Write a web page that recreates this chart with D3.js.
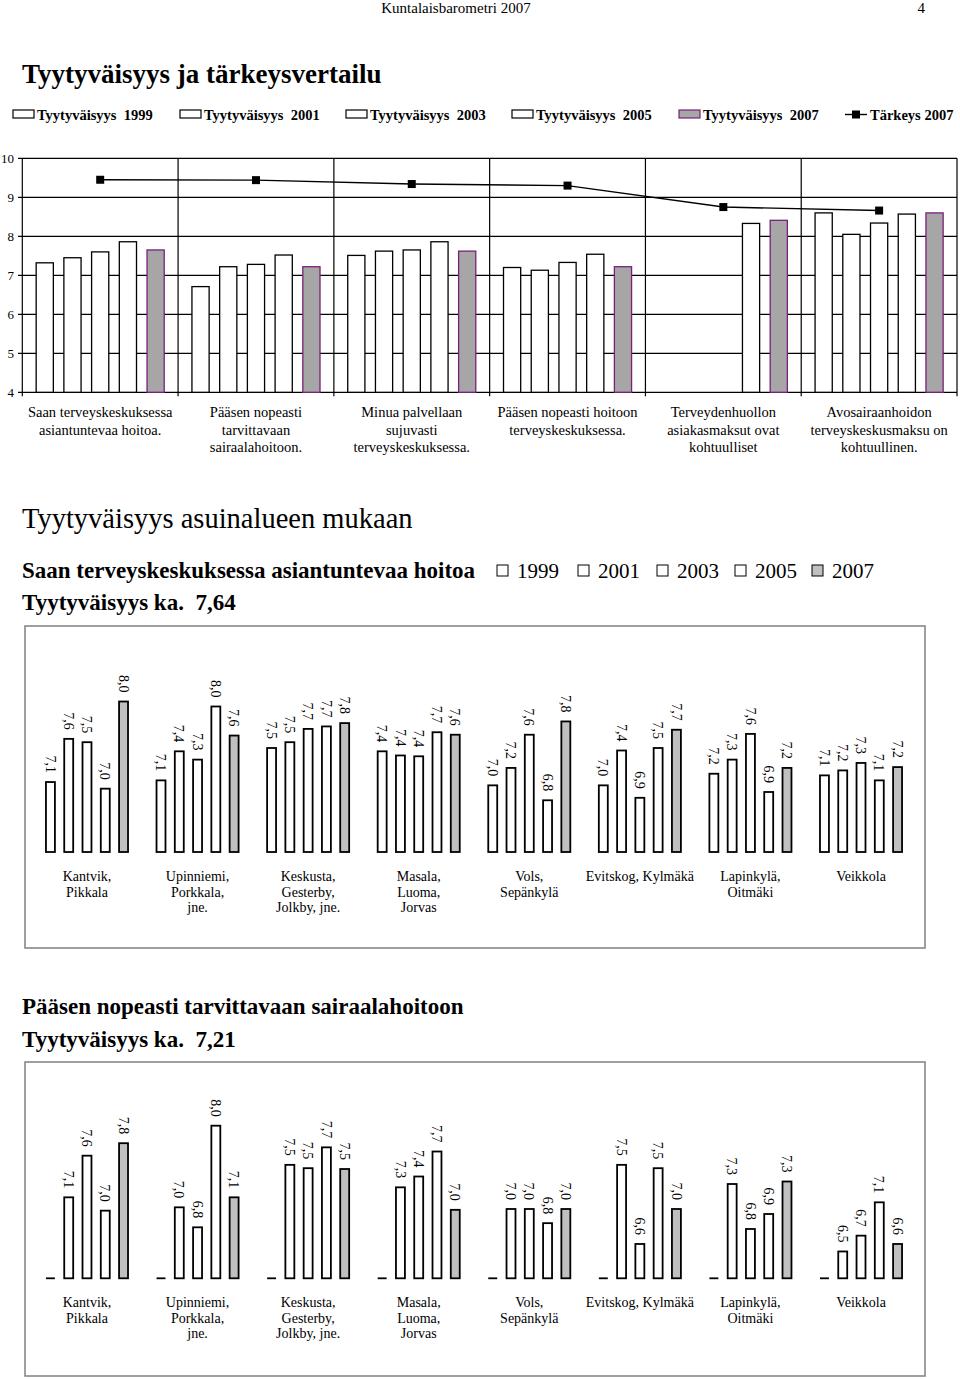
<!DOCTYPE html>
<html><head><meta charset="utf-8">
<script src="https://cdn.jsdelivr.net/npm/d3@7"></script>
<style>
body{margin:0;background:#fff}
svg{display:block}
text{font-family:"Liberation Serif","Times New Roman",serif;fill:#000;white-space:pre}
</style>
</head><body>
<svg id="c" width="960" height="1379"></svg>
<script>
// ---------- DATA ----------
const topCategories = [
  ["Saan terveyskeskuksessa","asiantuntevaa hoitoa."],
  ["Pääsen nopeasti","tarvittavaan","sairaalahoitoon."],
  ["Minua palvellaan","sujuvasti","terveyskeskuksessa."],
  ["Pääsen nopeasti hoitoon","terveyskeskuksessa."],
  ["Terveydenhuollon","asiakasmaksut ovat","kohtuulliset"],
  ["Avosairaanhoidon","terveyskeskusmaksu on","kohtuullinen."]
];
const topSeriesNames = ["Tyytyväisyys  1999","Tyytyväisyys  2001","Tyytyväisyys  2003","Tyytyväisyys  2005","Tyytyväisyys  2007"];
const sat1999 = [7.32, 6.71, 7.51, 7.20, null, 8.60];
const sat2001 = [7.45, 7.22, 7.62, 7.13, null, 8.05];
const sat2003 = [7.60, 7.28, 7.65, 7.33, null, 8.34];
const sat2005 = [7.86, 7.52, 7.86, 7.54, 8.33, 8.57];
const sat2007 = [7.65, 7.22, 7.62, 7.22, 8.41, 8.60];
const importanceName = "Tärkeys 2007";
const importance2007 = [9.45, 9.44, 9.34, 9.30, 8.75, 8.66];
const topTicks = [4,5,6,7,8,9,10];

const years = ["1999","2001","2003","2005","2007"];
const areas = [
  ["Kantvik,","Pikkala"],
  ["Upinniemi,","Porkkala,","jne."],
  ["Keskusta,","Gesterby,","Jolkby, jne."],
  ["Masala,","Luoma,","Jorvas"],
  ["Vols,","Sepänkylä"],
  ["Evitskog, Kylmäkä"],
  ["Lapinkylä,","Oitmäki"],
  ["Veikkola"]
];
// "Saan terveyskeskuksessa asiantuntevaa hoitoa"
const care1999 = [7.06, 7.08, 7.47, 7.43, 7.02, 7.02, 7.16, 7.14];
const care2001 = [7.58, 7.43, 7.54, 7.38, 7.23, 7.44, 7.33, 7.20];
const care2003 = [7.54, 7.33, 7.70, 7.37, 7.63, 6.87, 7.64, 7.29];
const care2005 = [6.98, 7.97, 7.73, 7.66, 6.84, 7.47, 6.94, 7.08];
const care2007 = [8.03, 7.62, 7.77, 7.63, 7.79, 7.69, 7.23, 7.24];
// "Pääsen nopeasti tarvittavaan sairaalahoitoon"
const hosp1999 = [null, null, null, null, null, null, null, null];
const hosp2001 = [7.14, 7.02, 7.53, 7.26, 7.00, 7.53, 7.30, 6.49];
const hosp2003 = [7.64, 6.78, 7.49, 7.39, 7.00, 6.58, 6.76, 6.68];
const hosp2005 = [6.98, 8.00, 7.74, 7.69, 6.83, 7.49, 6.94, 7.08];
const hosp2007 = [7.79, 7.14, 7.48, 6.99, 7.00, 7.00, 7.33, 6.58];

// ---------- DRAW ----------
const svg = d3.select("#c");
const fmt = v => d3.format(".1f")(v).replace(".", ",");

// header
svg.append("text").attr("x",456).attr("y",13).attr("text-anchor","middle").style("font-size","15px").text("Kuntalaisbarometri 2007");
svg.append("text").attr("x",925).attr("y",13).attr("text-anchor","end").style("font-size","15px").text("4");
svg.append("text").attr("x",22).attr("y",83).style("font-size","27px").style("font-weight","bold").text("Tyytyväisyys ja tärkeysvertailu");

// ----- top chart -----
const topSeries = [sat1999, sat2001, sat2003, sat2005, sat2007];
const x0 = d3.scaleBand().domain(d3.range(topCategories.length)).range([22.3, 957]).padding(0);
const x1 = d3.scaleBand().domain(years).range([0, x0.bandwidth()]).paddingInner(0.38).paddingOuter(0.5);
const yT = d3.scaleLinear().domain([4,10]).range([392.3,158.3]);

const gT = svg.append("g");
// horizontal grid
gT.selectAll("line.h").data(topTicks).join("line")
  .attr("x1",18).attr("x2",957).attr("y1",d=>yT(d)).attr("y2",d=>yT(d))
  .attr("stroke","#000").attr("stroke-width",1.2);
gT.selectAll("text.yt").data(topTicks).join("text")
  .attr("x",14).attr("y",d=>yT(d)).attr("dy","0.35em").attr("text-anchor","end")
  .style("font-size","13px").text(d=>d);
// vertical separators
const seps = d3.range(topCategories.length).map(i=>x0(i)).concat([957]);
gT.selectAll("line.v").data(seps).join("line")
  .attr("x1",d=>d).attr("x2",d=>d).attr("y1",yT(10)).attr("y2",yT(4)+4)
  .attr("stroke","#000").attr("stroke-width",1.2);
// bars
topSeries.forEach((s, j) => {
  gT.selectAll(null).data(s.map((v,i)=>({v,i})).filter(d=>d.v!=null)).join("rect")
    .attr("x", d=>x0(d.i)+x1(years[j]))
    .attr("y", d=>yT(d.v))
    .attr("width", x1.bandwidth())
    .attr("height", d=>yT(4)-yT(d.v))
    .attr("fill", j===4 ? "#a6a6a6" : "#fff")
    .attr("stroke", j===4 ? "#7a1f7a" : "#000")
    .attr("stroke-width", 1.3);
});
// importance line
const lineGen = d3.line().x((d,i)=>x0(i)+x0.bandwidth()/2).y(d=>yT(d));
gT.append("path").attr("d", lineGen(importance2007)).attr("fill","none").attr("stroke","#000").attr("stroke-width",1.4);
gT.selectAll("rect.m").data(importance2007).join("rect")
  .attr("x",(d,i)=>x0(i)+x0.bandwidth()/2-4).attr("y",d=>yT(d)-4)
  .attr("width",8).attr("height",8).attr("fill","#000");
// category labels
topCategories.forEach((lines,i)=>{
  const t = gT.append("text").attr("text-anchor","middle").style("font-size","14.5px");
  lines.forEach((l,k)=>t.append("tspan").attr("x",x0(i)+x0.bandwidth()/2).attr("y",417+k*17.5).text(l));
});
// legend
const legX = [13, 180, 346, 512, 679];
topSeriesNames.forEach((n,j)=>{
  gT.append("rect").attr("x",legX[j]).attr("y",110).attr("width",21).attr("height",8)
    .attr("fill", j===4 ? "#a6a6a6" : "#fff").attr("stroke", j===4 ? "#7a1f7a" : "#000").attr("stroke-width",1.2);
  gT.append("text").attr("x",legX[j]+24).attr("y",119.5).style("font-size","14.5px").style("font-weight","bold").text(n);
});
gT.append("line").attr("x1",845).attr("x2",867).attr("y1",114.5).attr("y2",114.5).attr("stroke","#000").attr("stroke-width",1.4);
gT.append("rect").attr("x",852).attr("y",110.5).attr("width",8).attr("height",8).attr("fill","#000");
gT.append("text").attr("x",870).attr("y",119.5).style("font-size","14.5px").style("font-weight","bold").text(importanceName);

// ----- section 2 -----
svg.append("text").attr("x",22).attr("y",528).style("font-size","28.5px").text("Tyytyväisyys asuinalueen mukaan");

function regionChart(cfg){
  const g = svg.append("g");
  g.append("rect").attr("x",25).attr("y",cfg.boxTop).attr("width",900).attr("height",cfg.boxBottom-cfg.boxTop)
    .attr("fill","none").attr("stroke","#808080").attr("stroke-width",1.5);
  const xa = d3.scaleBand().domain(d3.range(areas.length)).range([31.7, 916.3]).padding(0);
  const xb = d3.scaleBand().domain(years).range([0, xa.bandwidth()]).paddingInner(0.51).paddingOuter(0.78);
  const y = d3.scaleLinear().domain([cfg.yMin, cfg.yMin + 2.6]).range([cfg.baseline, cfg.baseline - 2.6*cfg.ppu]);
  cfg.series.forEach((s,j)=>{
    const d0 = s.map((v,i)=>({v,i}));
    // missing values: zero-height bar drawn as a flat line on the baseline
    g.selectAll(null).data(d0.filter(d=>d.v==null)).join("line")
      .attr("x1",d=>xa(d.i)+xb(years[j])).attr("x2",d=>xa(d.i)+xb(years[j])+xb.bandwidth())
      .attr("y1",cfg.baseline).attr("y2",cfg.baseline).attr("stroke","#000").attr("stroke-width",1.8);
    const dd = d0.filter(d=>d.v!=null);
    g.selectAll(null).data(dd).join("rect")
      .attr("x",d=>xa(d.i)+xb(years[j])).attr("y",d=>y(d.v))
      .attr("width",xb.bandwidth()).attr("height",d=>cfg.baseline-y(d.v))
      .attr("fill", j===4 ? "#c0c0c0" : "#fff").attr("stroke","#000").attr("stroke-width",1.8);
    g.selectAll(null).data(dd).join("text")
      .attr("transform",d=>`translate(${xa(d.i)+xb(years[j])+xb.bandwidth()/2},${y(d.v)-9}) rotate(90)`)
      .attr("text-anchor","end").attr("dy","0.35em").style("font-size","14px")
      .text(d=>fmt(d.v));
  });
  areas.forEach((lines,i)=>{
    const t = g.append("text").attr("text-anchor","middle").style("font-size","14px");
    lines.forEach((l,k)=>t.append("tspan").attr("x",xa(i)+xa.bandwidth()/2).attr("y",cfg.baseline+29+k*15.5).text(l));
  });
}

// chart 2 titles & legend
svg.append("text").attr("x",22).attr("y",578).style("font-size","23px").style("font-weight","bold").text("Saan terveyskeskuksessa asiantuntevaa hoitoa");
const sqX = [497, 578, 657, 735, 812];
years.forEach((yy,j)=>{
  svg.append("rect").attr("x",sqX[j]).attr("y",565).attr("width",11).attr("height",11)
    .attr("fill", j===4 ? "#c0c0c0" : "#fff").attr("stroke","#000").attr("stroke-width",1);
  svg.append("text").attr("x",sqX[j]+20).attr("y",578).style("font-size","21px").text(yy);
});
svg.append("text").attr("x",22).attr("y",610).style("font-size","23px").style("font-weight","bold").text("Tyytyväisyys ka.  7,64");

regionChart({boxTop:626, boxBottom:948, baseline:852, yMin:6.217, ppu:83,
  series:[care1999, care2001, care2003, care2005, care2007]});

// chart 3
svg.append("text").attr("x",22).attr("y",1014).style("font-size","23px").style("font-weight","bold").text("Pääsen nopeasti tarvittavaan sairaalahoitoon");
svg.append("text").attr("x",22).attr("y",1047).style("font-size","23px").style("font-weight","bold").text("Tyytyväisyys ka.  7,21");

regionChart({boxTop:1062, boxBottom:1376, baseline:1278.3, yMin:6.168, ppu:83.3,
  series:[hosp1999, hosp2001, hosp2003, hosp2005, hosp2007]});
</script>
</body></html>
